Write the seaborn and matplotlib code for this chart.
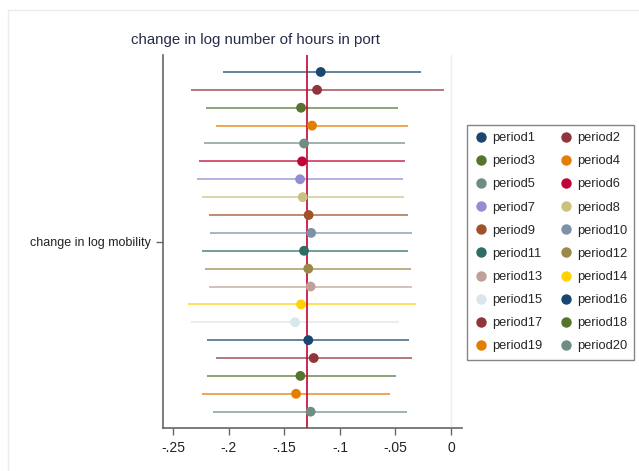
import numpy as np
import pandas as pd
import matplotlib
matplotlib.use("Agg")
import matplotlib.pyplot as plt
from matplotlib.lines import Line2D
import seaborn as sns

# Coefficient estimates with 95% confidence bounds, one per period
periods = [f"period{i}" for i in range(1, 21)]
estimate = [-0.1173, -0.1206, -0.1350, -0.1251, -0.1323, -0.1341, -0.1359, -0.1335,
            -0.1282, -0.1259, -0.1323, -0.1285, -0.1264, -0.1350, -0.1404, -0.1285,
            -0.1236, -0.1356, -0.1395, -0.1264]
ci_low = [-0.2055, -0.2343, -0.2208, -0.2116, -0.2224, -0.2266, -0.2290, -0.2245,
          -0.2176, -0.2170, -0.2245, -0.2215, -0.2179, -0.2365, -0.2341, -0.2194,
          -0.2116, -0.2200, -0.2241, -0.2146]
ci_high = [-0.0273, -0.0063, -0.0474, -0.0384, -0.0411, -0.0411, -0.0429, -0.0420,
           -0.0387, -0.0348, -0.0390, -0.0360, -0.0351, -0.0318, -0.0468, -0.0381,
           -0.0354, -0.0498, -0.0549, -0.0399]
reference_value = -0.1295
x_ticks = [-0.25, -0.2, -0.15, -0.1, -0.05, 0]
x_tick_labels = ["-.25", "-.2", "-.15", "-.1", "-.05", "0"]
y_label = "change in log mobility"
title = "change in log number of hours in port"

# Stata s2color palette
palette_15 = ["#1a476f", "#90353b", "#55752f", "#e37e00", "#6e8e84", "#c10534",
              "#938dd2", "#cac27e", "#a0522d", "#7b92a8", "#2d6d66", "#9c8847",
              "#bfa19c", "#ffd200", "#d9e6eb"]
colors = (palette_15 * 2)[:20]

df = pd.DataFrame({"period": periods, "estimate": estimate,
                   "lo": ci_low, "hi": ci_high, "row": np.arange(20)})

sns.set_theme(style="white")
plt.rcParams["font.family"] = ["Liberation Sans", "DejaVu Sans"]

fig = plt.figure(figsize=(6.39, 4.71), dpi=100)
fig.patch.set_facecolor("white")

# faint outer frame
fig.add_artist(Line2D([8 / 639, 1], [1 - 10 / 471, 1 - 10 / 471],
                      transform=fig.transFigure, color="#ececec", lw=1))
fig.add_artist(Line2D([8 / 639, 8 / 639], [0, 1 - 10 / 471],
                      transform=fig.transFigure, color="#ececec", lw=1))

ax = fig.add_axes([163.3 / 639, 1 - 428.3 / 471, (461.7 - 163.3) / 639, (428.3 - 55) / 471])
ax.set_facecolor("white")

ax.axvline(0, color="#eeeeee", lw=1, zorder=0)

for r in df.itertuples():
    ax.hlines(r.row, r.lo, r.hi, color=colors[r.row], lw=1.1, alpha=0.85, zorder=2)

ax.axvline(reference_value, color="#c10534", lw=1.2, zorder=3)

sns.scatterplot(data=df, x="estimate", y="row", hue="period", palette=colors,
                s=50, edgecolor="none", legend=False, ax=ax, zorder=4)

ax.set_xlim(-0.259, 0.0096)
ax.set_ylim(19.93, -0.95)
ax.set_xticks(x_ticks)
ax.set_xticklabels(x_tick_labels, fontsize=10, color="#222222")
ax.set_yticks([9.5])
ax.set_yticklabels([y_label], fontsize=9, color="#222222")
ax.set_xlabel("")
ax.set_ylabel("")
ax.tick_params(axis="both", direction="out", length=5, width=1, color="#666666", pad=4,
               bottom=True, left=True)
for side in ["top", "right"]:
    ax.spines[side].set_visible(False)
for side in ["left", "bottom"]:
    ax.spines[side].set_color("#666666")
    ax.spines[side].set_linewidth(1.2)

fig.text(255.5 / 639, 1 - 40 / 471, title, ha="center", va="center",
         fontsize=10.8, color="#262c4a")

# legend: two columns, period1/period2 on the first row
order = list(range(0, 20, 2)) + list(range(1, 20, 2))
handles = [Line2D([], [], marker="o", linestyle="none", markersize=7.5,
                  markerfacecolor=colors[i], markeredgecolor="none") for i in order]
labels = [periods[i] for i in order]
leg = fig.legend(handles, labels, ncol=2, loc="upper left",
                 bbox_to_anchor=(467.3 / 639, 1 - 125 / 471), borderaxespad=0,
                 fontsize=9.3, frameon=True, fancybox=False, borderpad=0.55,
                 handletextpad=0.35, columnspacing=1.35, labelspacing=0.86,
                 handlelength=1.0)
leg.get_frame().set_edgecolor("#666666")
leg.get_frame().set_linewidth(1.0)

fig.savefig("out.png", dpi=100, facecolor="white")
